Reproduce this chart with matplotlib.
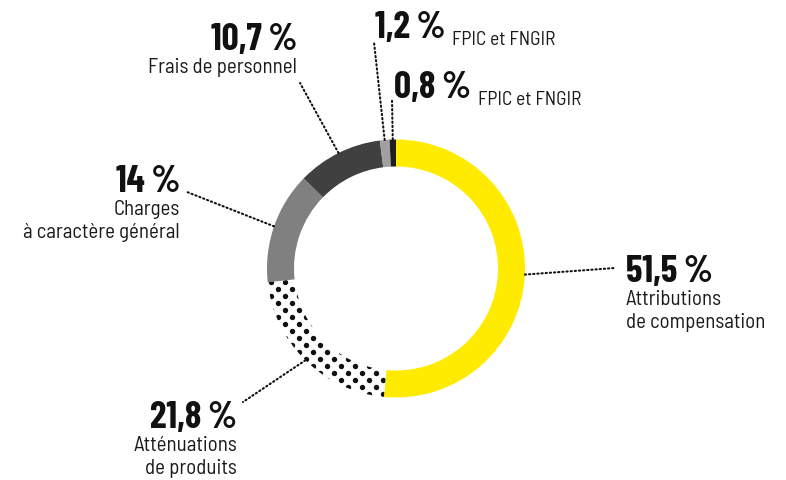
import numpy as np
import matplotlib
matplotlib.use("Agg")
import matplotlib.pyplot as plt

# data
names = ["Attributions\nde compensation", "Atténuations\nde produits", "Charges\nà caractère général",
         "Frais de personnel", "FPIC et FNGIR", "FPIC et FNGIR"]
values = [51.5, 21.8, 14, 10.7, 1.2, 0.8]
pct_labels = ["51,5\u2009%", "21,8\u2009%", "14\u2009%", "10,7\u2009%", "1,2\u2009%", "0,8\u2009%"]
colors = ["#ffeb00", "#ffffff", "#808080", "#404040", "#a0a0a0", "#1e1e1e"]

W, H = 786, 480
cx, cy, R, ring = 396, H - 268.5, 129, 27

# condensed faces, DejaVu Sans Condensed as fallback
pct_font = dict(family=['Barlow Condensed', 'DejaVu Sans'], fontstretch='condensed',
                fontweight='bold', fontsize=27, color="#111111")
lab_font = dict(family=['Barlow Semi Condensed', 'DejaVu Sans'], fontstretch='semi-condensed',
                fontweight='normal', color="#1a1a1a")

fig = plt.figure(figsize=(W / 100, H / 100), dpi=100)
ax = fig.add_axes([0, 0, 1, 1])

wedges, _ = ax.pie(values, colors=colors, startangle=90, counterclock=False,
                   center=(cx, cy), radius=R, frame=True,
                   wedgeprops=dict(width=ring, linewidth=0))
ax.set_xlim(0, W)
ax.set_ylim(0, H)
ax.set_aspect('equal')
ax.axis('off')

# dot pattern for the second wedge
dx, dy = 14, 7
xs, ys = [], []
for j, yy in enumerate(np.arange(cy - R - 10, cy + R + 10, dy)):
    off = (j % 2) * dx / 2
    for xx in np.arange(cx - R - 10 + off, cx + R + 10, dx):
        xs.append(xx)
        ys.append(yy)
dots = ax.scatter(xs, ys, s=15, color="#111111", linewidths=0, zorder=3)
dots.set_clip_path(wedges[1])

# label layout: (line end x, y), text anchor x, pct baseline y, align, inline name
layout = [
    ((615, 268), 626, 282, 'left', False),
    ((243, 402), 237, 428, 'right', False),
    ((187, 192), 180, 192, 'right', False),
    ((300, 83), 297, 50, 'right', False),
    ((374, 42), 375, 38, 'left', True),
    ((392, 100), 394, 98, 'left', True),
]

cum = np.cumsum([0] + values[:-1])
for i, (val, start) in enumerate(zip(values, cum)):
    mid = np.deg2rad(90 - (start + val / 2) * 3.6)
    px, py = cx + R * np.cos(mid), cy + R * np.sin(mid)
    (lx, ly), tx, ty, ha, inline = layout[i]
    ax.plot([px, lx], [py, H - ly], color="#111111", lw=1.5,
            linestyle=(0, (0.6, 1.4)), dash_capstyle='round', zorder=4)
    t = ax.text(tx, H - ty, pct_labels[i], ha=ha, va='baseline', **pct_font)
    if inline:
        ax.annotate(names[i], xy=(1, 0), xycoords=t, xytext=(5, 0),
                    textcoords='offset points', ha='left', va='baseline',
                    fontsize=14, **lab_font)
    else:
        for k, line in enumerate(names[i].split("\n")):
            ax.text(tx, H - ty - 23 * (k + 1), line, ha=ha, va='baseline',
                    fontsize=15, **lab_font)

fig.savefig("out.png", dpi=100, facecolor="white")
